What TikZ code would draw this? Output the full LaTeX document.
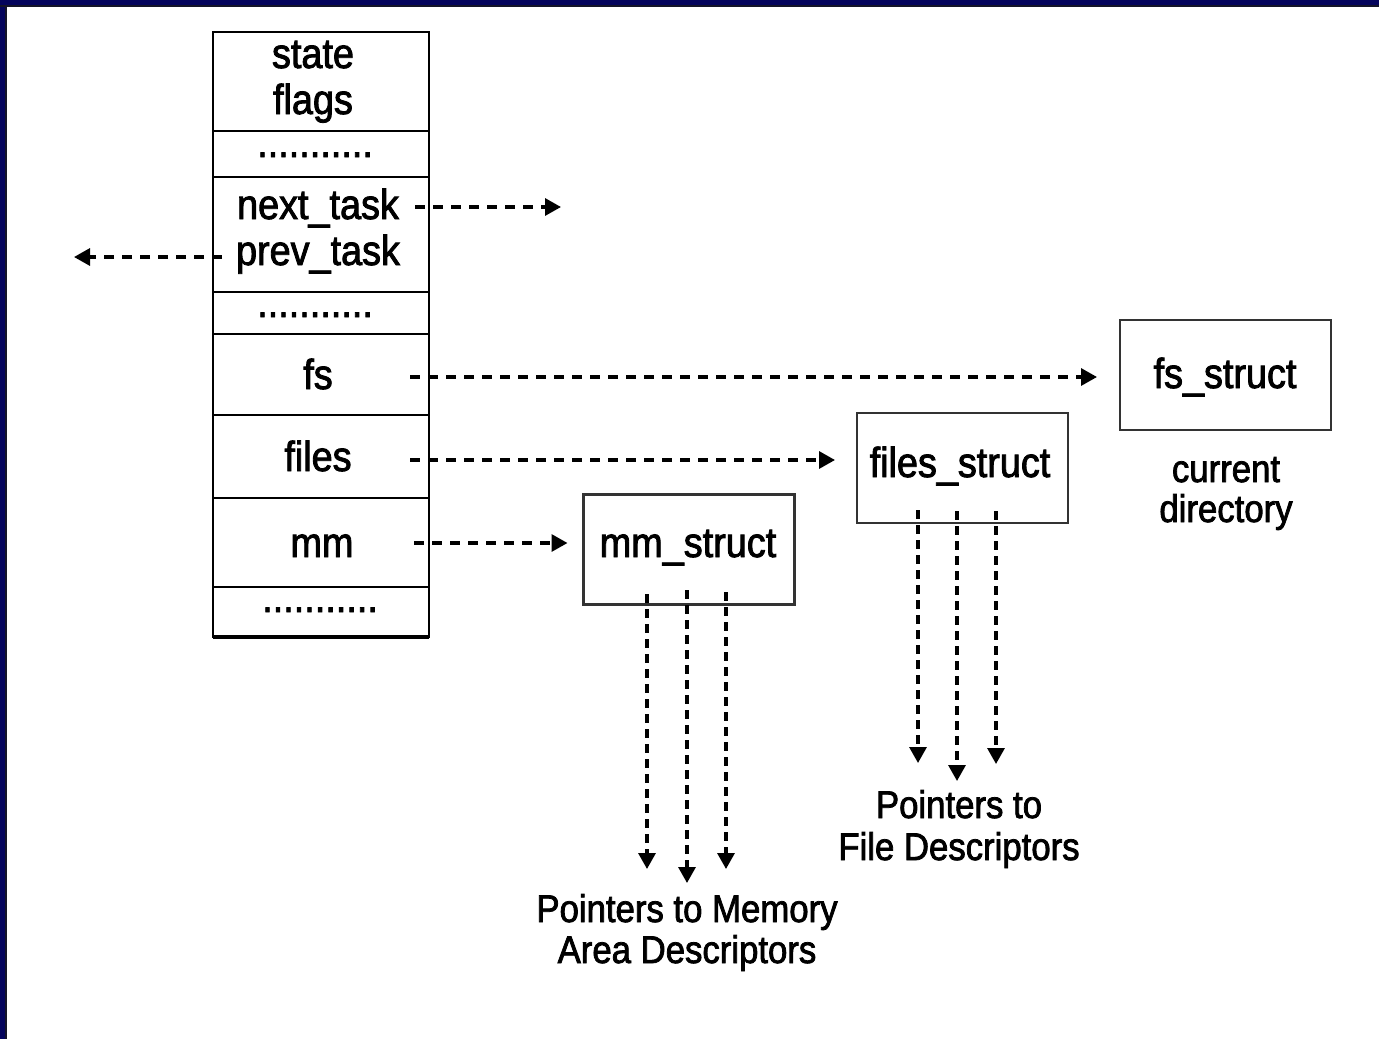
\documentclass[tikz,border=0pt]{standalone}
\usepackage{fontspec}
\setmainfont{Liberation Sans}[FakeStretch=0.9,FakeBold=2]
\usetikzlibrary{arrows.meta}
\definecolor{slidenavy}{RGB}{4,4,92}
\definecolor{slideedge}{RGB}{20,20,40}

\begin{document}
\begin{tikzpicture}[x=0.5pt,y=-0.5pt,
  cell/.style={draw, line width=1.1pt, minimum width=108pt, inner sep=0pt, outer sep=0pt},
  box/.style={draw, line width=1.1pt, draw=black!80, minimum width=105.5pt, minimum height=55pt, inner sep=0pt, outer sep=0pt},
  lbl/.style={font=\fontsize{21}{23}\selectfont, inner sep=0pt, anchor=base},
  note/.style={font=\fontsize{19.3}{21}\selectfont, inner sep=0pt, anchor=base},
  hptr/.style={line width=1.6pt, dash pattern=on 5pt off 4pt, -{Triangle[length=8pt,width=8.5pt]}},
  vptr/.style={line width=1.6pt, dash pattern=on 4.5pt off 3pt, -{Triangle[length=8pt,width=8.5pt]}}]

% canvas and slide frame
\useasboundingbox (0,0) rectangle (1379,1039);
\fill[white] (0,0) rectangle (1379,1039);
\fill[slidenavy] (0,0) rectangle (1379,6);
\fill[slidenavy] (0,0) rectangle (7,1039);
\fill[slideedge] (0,5) rectangle (1379,7);
\fill[slideedge] (5,5) rectangle (7,1039);

% task_struct cells
\node[cell, minimum height=49.5pt] (c1) at (321,81.5) {};
\node[cell, minimum height=23pt]   (c2) at (321,154) {};
\node[cell, minimum height=57.5pt] (c3) at (321,234.5) {};
\node[cell, minimum height=21pt]   (c4) at (321,313) {};
\node[cell, minimum height=40.5pt] (c5) at (321,374.5) {};
\node[cell, minimum height=41.5pt] (c6) at (321,456.5) {};
\node[cell, minimum height=44.5pt] (c7) at (321,542.5) {};
\node[cell, minimum height=25pt]   (c8) at (321,612) {};
\draw[line width=1.6pt] (c8.south west) -- (c8.south east);

% field names
\node[lbl] (tstate) at (313,68)  {state};
\node[lbl] (tflags) at (313,114) {flags};
\node[lbl] (tdots1) at (315,157) {...........};
\node[lbl] (tnext)  at (318,219) {next\_task};
\node[lbl] (tprev)  at (318,265) {prev\_task};
\node[lbl] (tdots2) at (315,317) {...........};
\node[lbl] (tfs)    at (318,389) {fs};
\node[lbl] (tfiles) at (318,471) {files};
\node[lbl] (tmm)    at (322,557) {mm};
\node[lbl] (tdots3) at (320,612) {...........};

% referenced structures
\node[box] (mmbox)    at (689,549.5)  {};
\node[box] (filesbox) at (962.5,468)  {};
\node[box] (fsbox)    at (1225.5,375) {};
\node[lbl] (tmmbox)    at (688,557)  {mm\_struct};
\node[lbl] (tfilesbox) at (960,477)  {files\_struct};
\node[lbl] (tfsbox)    at (1225,388) {fs\_struct};

% captions
\node[note] (cur1) at (1226,482) {current};
\node[note] (cur2) at (1226,522) {directory};
\node[note] (fd1)  at (959,818)  {Pointers to};
\node[note] (fd2)  at (959,860)  {File Descriptors};
\node[note] (md1)  at (687,922)  {Pointers to Memory};
\node[note] (md2)  at (687,963)  {Area Descriptors};

% list links of the task
\coordinate (nextA) at (415,207);  \coordinate (nextB) at (561,207);
\coordinate (prevA) at (222,257);  \coordinate (prevB) at (74,257);
\draw[hptr] (nextA) -- (nextB);
\draw[hptr] (prevA) -- (prevB);

% fields pointing to their structures
\coordinate (fsA)    at (410,377);
\coordinate (filesA) at (410,460);
\coordinate (mmA)    at (414,543);
\draw[hptr, shorten >=11.5pt] (fsA) -- (fsA -| fsbox.west);
\draw[hptr, shorten >=11pt]   (filesA) -- (filesA -| filesbox.west);
\draw[hptr, shorten >=8pt]    (mmA) -- (mmA -| mmbox.west);

% pointers leaving mm_struct
\coordinate (m1a) at (647,594); \coordinate (m1b) at (647,869);
\coordinate (m2a) at (687,590); \coordinate (m2b) at (687,883);
\coordinate (m3a) at (726,592); \coordinate (m3b) at (726,869);
\draw[vptr] (m1a) -- (m1b);
\draw[vptr] (m2a) -- (m2b);
\draw[vptr] (m3a) -- (m3b);

% pointers leaving files_struct
\coordinate (f1a) at (918,510); \coordinate (f1b) at (918,763);
\coordinate (f2a) at (957,511); \coordinate (f2b) at (957,781);
\coordinate (f3a) at (996,511); \coordinate (f3b) at (996,764);
\draw[vptr] (f1a) -- (f1b);
\draw[vptr] (f2a) -- (f2b);
\draw[vptr] (f3a) -- (f3b);
\end{tikzpicture}
\end{document}
